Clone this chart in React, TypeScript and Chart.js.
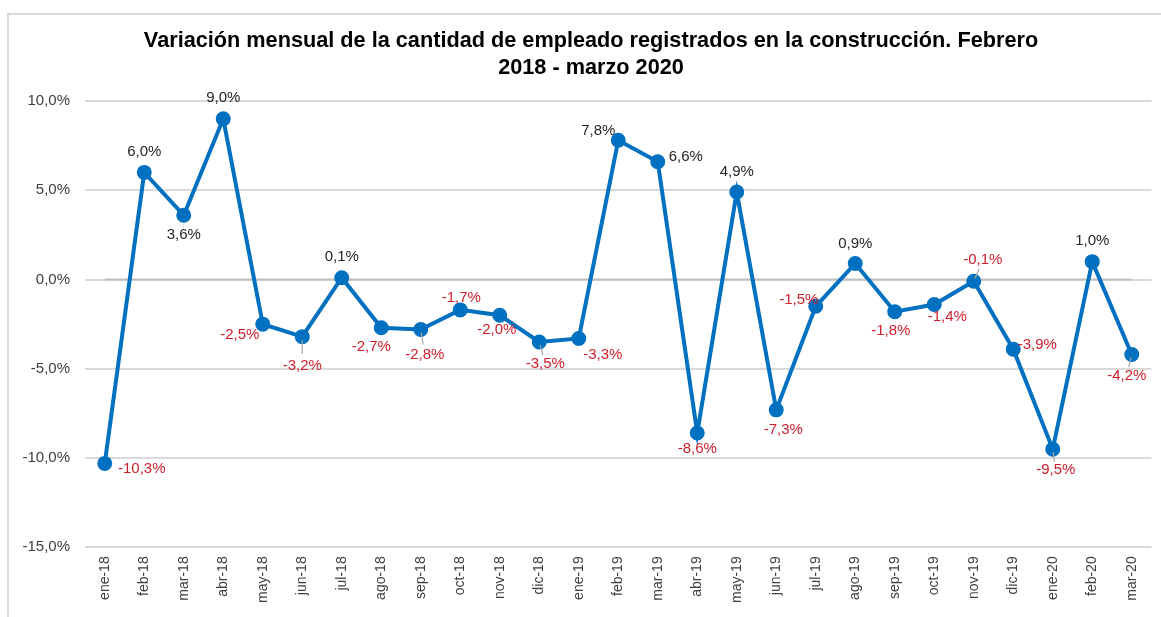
import React, { useEffect, useRef } from "react";
import { Chart, registerables } from "chart.js";

Chart.register(...registerables);

const TITLE_LINES = [
  "Variación mensual de la cantidad de empleado registrados en la construcción. Febrero",
  "2018 - marzo 2020",
];

const CATEGORIES = [
  "ene-18", "feb-18", "mar-18", "abr-18", "may-18", "jun-18", "jul-18", "ago-18", "sep-18",
  "oct-18", "nov-18", "dic-18", "ene-19", "feb-19", "mar-19", "abr-19", "may-19", "jun-19",
  "jul-19", "ago-19", "sep-19", "oct-19", "nov-19", "dic-19", "ene-20", "feb-20", "mar-20",
];

const VARIATION = [
  -10.3, 6.0, 3.6, 9.0, -2.5, -3.2, 0.1, -2.7, -2.8,
  -1.7, -2.0, -3.5, -3.3, 7.8, 6.6, -8.6, 4.9, -7.3,
  -1.5, 0.9, -1.8, -1.4, -0.1, -3.9, -9.5, 1.0, -4.2,
];

const Y_MIN = -15;
const Y_MAX = 10;
const Y_STEP = 5;

// label placement (style): offset of each value label from its point, and whether a leader line is drawn
const LABEL_OFFSETS: [number, number][] = [
  [37, 5], [0, -21], [0, 20], [0, -21], [-23, 11], [0, 29], [0, -21], [-10, 19], [4, 25],
  [1, -12], [-3, 15], [6, 22], [24, 16], [-20, -9], [28, -5], [0, 16], [0, -20], [7, 20],
  [-17, -6], [0, -20], [-4, 19], [13, 12], [9, -21], [24, -4], [3, 21], [0, -21], [-5, 21],
];
const LABEL_LEADERS = [
  false, false, false, false, false, true, false, false, true,
  false, false, true, false, false, false, false, false, false,
  false, false, false, false, true, false, true, false, true,
];

const FONT = "'Liberation Sans', Arial, Helvetica, sans-serif";
const TITLE_FONT = "bold 21.7px 'Liberation Sans Narrow', 'Arial Narrow', 'Liberation Sans', Arial, sans-serif";
const fmt = (v: number) => v.toFixed(1).replace(".", ",") + "%";

const titlePlugin = {
  id: "customTitle",
  afterDraw(chart: any) {
    const ctx = chart.ctx;
    ctx.save();
    ctx.font = TITLE_FONT;
    ctx.fillStyle = "#000000";
    ctx.textAlign = "center";
    ctx.textBaseline = "middle";
    TITLE_LINES.forEach((line, i) => {
      ctx.fillText(line, 591, 41 + i * 27);
    });
    ctx.restore();
  },
};

const zeroLinePlugin = {
  id: "zeroLine",
  beforeDatasetsDraw(chart: any) {
    const meta = chart.getDatasetMeta(0);
    if (!meta.data.length) return;
    const y = chart.scales.y.getPixelForValue(0);
    const ctx = chart.ctx;
    ctx.save();
    ctx.strokeStyle = "#bfbfbf";
    ctx.lineWidth = 2;
    ctx.beginPath();
    ctx.moveTo(meta.data[0].x, y);
    ctx.lineTo(meta.data[meta.data.length - 1].x, y);
    ctx.stroke();
    ctx.restore();
  },
};

const valueLabelPlugin = {
  id: "valueLabels",
  afterDatasetsDraw(chart: any) {
    const meta = chart.getDatasetMeta(0);
    const ctx = chart.ctx;
    ctx.save();
    ctx.font = `15px ${FONT}`;
    ctx.textAlign = "center";
    ctx.textBaseline = "middle";
    meta.data.forEach((pt: any, i: number) => {
      const v = VARIATION[i];
      const [dx, dy] = LABEL_OFFSETS[i];
      if (LABEL_LEADERS[i]) {
        const len = Math.hypot(dx, dy);
        const ux = dx / len;
        const uy = dy / len;
        ctx.strokeStyle = "#a6a6a6";
        ctx.lineWidth = 1.2;
        ctx.beginPath();
        ctx.moveTo(pt.x + ux * 3, pt.y + uy * 3);
        ctx.lineTo(pt.x + dx * 0.6, pt.y + dy * 0.6);
        ctx.stroke();
      }
      ctx.fillStyle = v < 0 ? "#cc1f2b" : "#262626";
      ctx.fillText(fmt(v), pt.x + dx, pt.y + dy);
    });
    ctx.restore();
  },
};

export default function App() {
  const canvasRef = useRef<HTMLCanvasElement | null>(null);

  useEffect(() => {
    document.body.style.margin = "0";
    document.body.style.background = "#ffffff";
    const canvas = canvasRef.current;
    if (!canvas) return;
    const chart = new Chart(canvas, {
      type: "line",
      data: {
        labels: CATEGORIES,
        datasets: [
          {
            data: VARIATION,
            borderColor: "#0070c0",
            backgroundColor: "#0070c0",
            borderWidth: 4,
            pointRadius: 5.5,
            pointHoverRadius: 5.5,
            pointBackgroundColor: "#0070c0",
            pointBorderColor: "#0070c0",
            tension: 0,
            fill: false,
          },
        ],
      },
      options: {
        animation: false,
        responsive: false,
        maintainAspectRatio: false,
        layout: { padding: { left: 0, right: 7, top: 101, bottom: 5 } },
        plugins: {
          legend: { display: false },
          tooltip: { enabled: false },
          title: { display: false },
        },
        scales: {
          x: {
            offset: true,
            grid: { display: false, drawTicks: false },
            border: { display: false },
            ticks: {
              color: "#404040",
              font: { family: FONT, size: 14 },
              minRotation: 90,
              maxRotation: 90,
              autoSkip: false,
              padding: 9,
            },
          },
          y: {
            min: Y_MIN,
            max: Y_MAX,
            afterFit(scale: any) {
              scale.width = 85;
            },
            grid: { color: "#d9d9d9", lineWidth: 2, drawTicks: false },
            border: { display: false },
            ticks: {
              stepSize: Y_STEP,
              color: "#404040",
              font: { family: FONT, size: 15 },
              padding: 15,
              callback: (v: any) => fmt(Number(v)),
            },
          },
        },
      },
      plugins: [zeroLinePlugin, valueLabelPlugin, titlePlugin],
    });
    return () => chart.destroy();
  }, []);

  return (
    <div style={{ position: "absolute", left: 0, top: 0, width: 1161, height: 617, background: "#fff" }}>
      <div
        style={{
          position: "absolute",
          left: 7,
          top: 13,
          right: 0,
          bottom: 0,
          borderTop: "2px solid #d9d9d9",
          borderLeft: "2px solid #d9d9d9",
        }}
      />
      <canvas ref={canvasRef} width={1161} height={617} style={{ position: "absolute", left: 0, top: 0 }} />
    </div>
  );
}
